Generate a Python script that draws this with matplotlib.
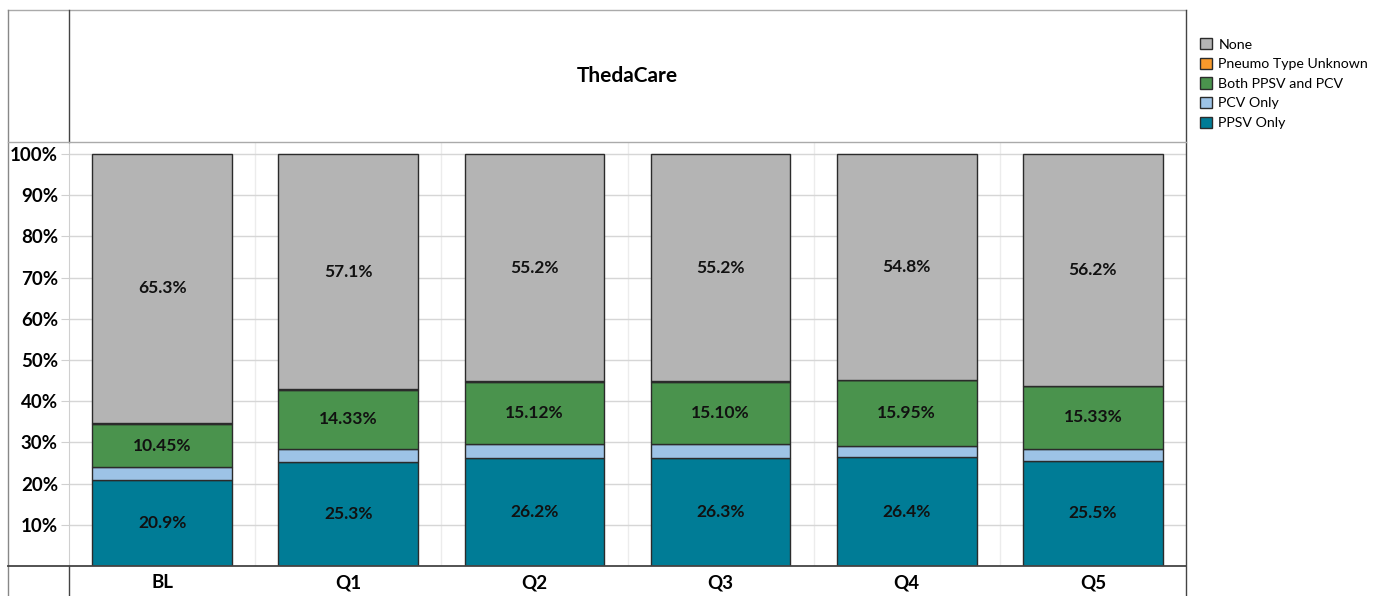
import matplotlib
matplotlib.use("Agg")
import matplotlib.pyplot as plt
import numpy as np
from matplotlib.patches import Patch

plt.rcParams['font.family'] = ['Lato', 'DejaVu Sans']

# data (percent)
periods = ['BL', 'Q1', 'Q2', 'Q3', 'Q4', 'Q5']
ppsv_only = [20.9, 25.3, 26.2, 26.3, 26.4, 25.5]
pcv_only = [3.1, 3.2, 3.4, 3.3, 2.8, 2.9]
both = [10.45, 14.33, 15.12, 15.10, 15.95, 15.33]
unknown = [0.25, 0.07, 0.08, 0.1, 0.05, 0.07]
none = [65.3, 57.1, 55.2, 55.2, 54.8, 56.2]

ppsv_labels = ['20.9%', '25.3%', '26.2%', '26.3%', '26.4%', '25.5%']
both_labels = ['10.45%', '14.33%', '15.12%', '15.10%', '15.95%', '15.33%']
none_labels = ['65.3%', '57.1%', '55.2%', '55.2%', '54.8%', '56.2%']
yticks = [10, 20, 30, 40, 50, 60, 70, 80, 90, 100]

c_none = '#b4b4b4'
c_unk = '#f89a2c'
c_both = '#4a934d'
c_pcv = '#9dc3e6'
c_ppsv = '#007c96'
edge = '#2b2b2b'

W, H = 1385, 596
fig = plt.figure(figsize=(W / 100, H / 100), dpi=100)

#main plot area (pixels 69..1186 wide, 142..566 tall)
ax = fig.add_axes([69 / W, 1 - 566 / H, (1186 - 69) / W, (566 - 142) / H])
x = np.arange(len(periods))
bw = 0.75

bottom = np.zeros(len(periods))
series = [(ppsv_only, c_ppsv), (pcv_only, c_pcv), (both, c_both), (unknown, c_unk), (none, c_none)]
bars = []
for vals, col in series:
    b = ax.bar(x, vals, bw, bottom=bottom, color=col, edgecolor=edge, linewidth=1.0, zorder=3)
    bars.append(b)
    bottom = bottom + np.array(vals)

for b, labs in [(bars[0], ppsv_labels), (bars[2], both_labels), (bars[4], none_labels)]:
    ax.bar_label(b, labels=labs, label_type='center', fontsize=12.5, fontweight='bold', color='#111111')

ax.set_xlim(-0.5, len(periods) - 0.5)
ax.set_ylim(0, 102.9)
ax.set_yticks(yticks)
ax.set_yticklabels([f'{t}%' for t in yticks], fontsize=13.5, fontweight='bold')
ax.tick_params(axis='y', length=6, color='#d0d0d0', pad=2)
ax.set_xticks([])
ax.yaxis.grid(True, color='#d6d6d6', linewidth=1, zorder=0)
for b in np.arange(0.5, len(periods) - 0.5):
    ax.axvline(b, color='#ececec', linewidth=1, zorder=0)
for s in ['top', 'right', 'bottom']:
    ax.spines[s].set_visible(False)
ax.spines['left'].set_color('#cfcfcf')

# overlay for table-style frame lines and text
ov = fig.add_axes([0, 0, 1, 1], zorder=5)
ov.set_xlim(0, W)
ov.set_ylim(H, 0)
ov.axis('off')
ov.patch.set_alpha(0)
dark = '#444444'
ov.plot([8, 1186], [10, 10], color='#aaaaaa', lw=1)
ov.plot([8, 8], [10, H], color='#888888', lw=1)
ov.plot([1186, 1186], [10, H], color=dark, lw=1)
ov.plot([69, 69], [10, 142], color=dark, lw=1)
ov.plot([69, 69], [566, H], color=dark, lw=1)
ov.plot([8, 1186], [142, 142], color='#aaaaaa', lw=1)
ov.plot([8, 1186], [566, 566], color=dark, lw=1.3)

ov.text((69 + 1186) / 2, 76, 'ThedaCare', ha='center', va='center', fontsize=15, fontweight='bold')
for i, p in enumerate(periods):
    cx = 69 + (1186 - 69) / len(periods) * (i + 0.5)
    ov.text(cx, 583, p, ha='center', va='center', fontsize=13.5, fontweight='bold')

handles = [Patch(facecolor=c_none, edgecolor=edge, label='None'),
           Patch(facecolor=c_unk, edgecolor=edge, label='Pneumo Type Unknown'),
           Patch(facecolor=c_both, edgecolor=edge, label='Both PPSV and PCV'),
           Patch(facecolor=c_pcv, edgecolor=edge, label='PCV Only'),
           Patch(facecolor=c_ppsv, edgecolor=edge, label='PPSV Only')]
fig.legend(handles=handles, loc='upper left', bbox_to_anchor=(1200 / W, 1 - 38 / H),
           frameon=False, fontsize=10.2, handlelength=0.85, handleheight=0.85,
           handletextpad=0.45, labelspacing=0.5, borderaxespad=0, borderpad=0)

fig.savefig('out.png', dpi=100)
